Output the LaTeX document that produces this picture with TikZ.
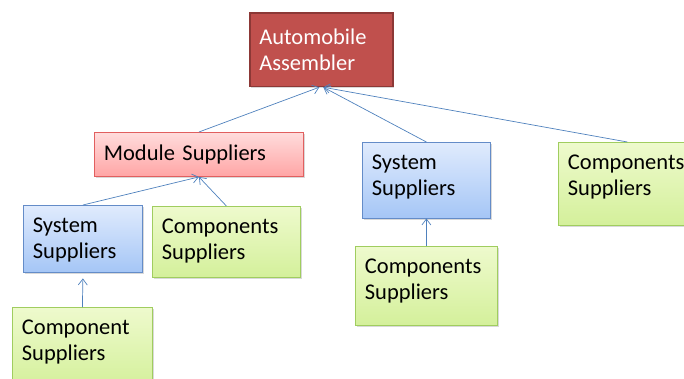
\documentclass[tikz,border=0pt]{standalone}
\usepackage{fontspec}
\setmainfont{Carlito}
\usetikzlibrary{arrows.meta,shadows}
\definecolor{AsmRed}{RGB}{192,80,77}
\definecolor{AsmEdge}{RGB}{140,56,54}
\definecolor{ModTop}{RGB}{255,220,220}
\definecolor{ModBot}{RGB}{255,165,165}
\definecolor{ModEdge}{RGB}{225,95,95}
\definecolor{SysTop}{RGB}{224,235,253}
\definecolor{SysBot}{RGB}{165,198,246}
\definecolor{SysEdge}{RGB}{100,140,200}
\definecolor{CompTop}{RGB}{238,250,205}
\definecolor{CompBot}{RGB}{212,240,155}
\definecolor{CompEdge}{RGB}{160,205,95}
\definecolor{LinkBlue}{RGB}{79,129,189}
\tikzset{
  supbox/.style={anchor=north west, align=left, inner xsep=9.5pt, inner ysep=12pt,
    line width=0.8pt, font={\fontsize{22.5}{26.5}\selectfont},
    drop shadow={shadow xshift=1.2pt, shadow yshift=-1.5pt, opacity=0.3}},
  asmbox/.style={supbox, fill=AsmRed, draw=AsmEdge, line width=1.6pt, text=white, inner ysep=16pt},
  modbox/.style={supbox, top color=ModTop, bottom color=ModBot, draw=ModEdge},
  sysbox/.style={supbox, top color=SysTop, bottom color=SysBot, draw=SysEdge},
  compbox/.style={supbox, top color=CompTop, bottom color=CompBot, draw=CompEdge},
  uparrow/.style={-{Straight Barb[length=6pt,width=9pt]}, draw=LinkBlue, line width=0.7pt},
}

\begin{document}
\begin{tikzpicture}[x=1pt, y=-1pt]
  \useasboundingbox (0,0) rectangle (684,378);
  \clip (0,0) rectangle (684,378);
  % top level
  \node[asmbox, text width=124pt, text depth=26pt] (asm) at (249,12) {Automobile\\Assembler};
  % tier one
  \node[modbox, text width=190pt, text depth=4.5pt] (mod) at (94,132) {Module Suppliers};
  \node[sysbox, text width=109pt, text depth=37pt] (sysM) at (362,142) {System\\Suppliers};
  \node[compbox, text width=119pt, text depth=44pt] (compR) at (558,142) {Components\\Suppliers};
  % tier two
  \node[sysbox, text width=100pt, text depth=28pt] (sysL) at (23,205) {System\\Suppliers};
  \node[compbox, text width=129pt, text depth=32pt] (compL) at (152,206) {Components\\Suppliers};
  \node[compbox, text width=123pt, text depth=40pt] (compM) at (355,246) {Components\\Suppliers};
  % tier three
  \node[compbox, text width=121pt, text depth=41pt] (compB) at (12,307) {Component\\Suppliers};
  % links
  \draw[uparrow] (mod.north) -- ([xshift=-2pt]asm.south);
  \draw[uparrow] (sysM.north) -- ([xshift=2pt]asm.south);
  \draw[uparrow] (compR.north) -- ([xshift=2pt]asm.south);
  \draw[uparrow] (sysL.north) -- (mod.south);
  \draw[uparrow] (compL.north) -- (mod.south);
  \draw[uparrow] (compB.north) -- ([yshift=-6pt]sysL.south);
  \draw[uparrow] (compM.north) -- (sysM.south);
\end{tikzpicture}
\end{document}
